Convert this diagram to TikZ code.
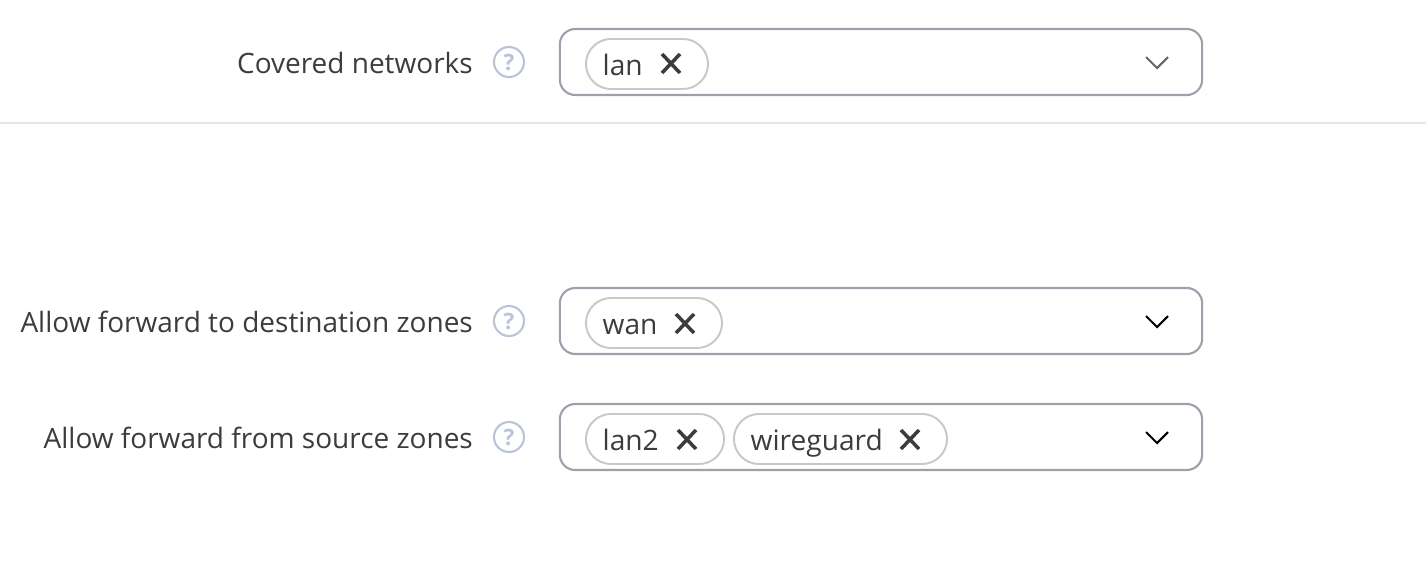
\documentclass[tikz,border=0pt]{standalone}
\usepackage{fontspec}
\setmainfont{Open Sans}
\usetikzlibrary{positioning}
\definecolor{selectline}{HTML}{A09FAB}
\definecolor{tagline}{HTML}{C8C8C8}
\definecolor{helpline}{HTML}{B9C3DA}
\definecolor{inktext}{HTML}{3C3C3C}
\definecolor{chevgray}{HTML}{666666}
\definecolor{ruleline}{HTML}{E6E6E9}

\begin{document}
\begin{tikzpicture}[x=0.01cm,y=-0.01cm,
    label node/.style={anchor=east,inner sep=0pt,text=inktext,font=\fontsize{7.96pt}{10pt}\selectfont},
    select node/.style={draw=selectline,line width=0.6pt,rounded corners=4.4pt,minimum width=6.42cm,minimum height=0.66cm,inner sep=0pt},
    tag node/.style={draw=tagline,line width=0.55pt,rounded corners=2.5mm,minimum height=0.5cm,inner sep=0pt},
    tag text/.style={anchor=base west,inner sep=0pt,text=inktext,font=\fontsize{8pt}{10pt}\selectfont},
    help node/.style={circle,draw=helpline,line width=0.6pt,minimum size=0.3cm,inner sep=0pt,text=helpline,font=\fontsize{6.4pt}{8pt}\bfseries\selectfont},
    cross/.style={draw=inktext,line width=1pt},
    chev/.style={line width=0.6pt}
  ]
  \useasboundingbox (0,0) rectangle (1426,566);

  % covered networks
  \node[label node] (l1) at (473.5,63) {Covered networks};
  \node[help node] (h1) at (509,62) {?};
  \node[select node] (s1) at (881,62) {};
  \node[tag node,minimum width=1.22cm] (t1) at (647,64) {};
  \node[tag text] (x1) at (602,75) {lan};
  \draw[cross] (662,54) -- (680,73) (680,54) -- (662,73);
  \draw[chev,chevgray] (1146,57) -- (1157,68) -- (1168,57);

  \draw[ruleline,line width=0.5pt] (0,123) -- (1426,123);

  % forward to
  \node[label node] (l2) at (473.5,322) {Allow forward to destination zones};
  \node[help node] (h2) at (509,321) {?};
  \node[select node] (s2) at (881,321) {};
  \node[tag node,minimum width=1.36cm] (t2) at (654,323) {};
  \node[tag text] (x2) at (602,334) {wan};
  \draw[cross] (676,314) -- (694,333) (694,314) -- (676,333);
  \draw[chev,black] (1146,316) -- (1157,327) -- (1168,316);

  % forward from
  \node[label node] (l3) at (473.5,438) {Allow forward from source zones};
  \node[help node] (h3) at (509,437) {?};
  \node[select node] (s3) at (881,437) {};
  \node[tag node,minimum width=1.38cm] (t3) at (655,439) {};
  \node[tag text] (x3) at (602,450) {lan2};
  \draw[cross] (678,430) -- (696,449) (696,430) -- (678,449);
  \node[tag node,minimum width=2.13cm] (t4) at (840.5,439) {};
  \node[tag text] (x4) at (750,450) {wireguard};
  \draw[cross] (901,430) -- (919,449) (919,430) -- (901,449);
  \draw[chev,black] (1146,432) -- (1157,443) -- (1168,432);
\end{tikzpicture}
\end{document}
